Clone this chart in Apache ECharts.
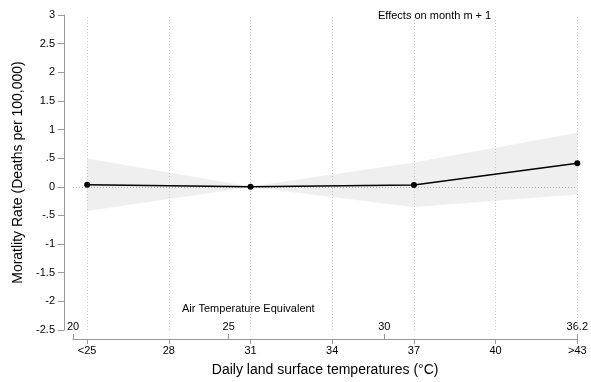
<!DOCTYPE html>
<html>
<head>
<meta charset="utf-8">
<script src="https://cdn.jsdelivr.net/npm/echarts@6/dist/echarts.min.js"></script>
<style>
  html, body { margin: 0; padding: 0; background: #fff; }
  #chart { width: 591px; height: 382px; }
</style>
</head>
<body>
<div id="chart"></div>
<script>
// Land surface temperature bins (°C) and their tick labels
const lstBins = [25, 31, 37, 43];
const lstTicks = [25, 28, 31, 34, 37, 40, 43];
const lstTickLabels = ['<25', '28', '31', '34', '37', '40', '>43'];

// Matching air temperature scale
const airTicks = [20, 25, 30, 36.2];

// Estimated effect on mortality and its 95% confidence band
const effect = [0.035, 0.0, 0.03, 0.41];
const ciLower = [-0.42, 0.0, -0.35, -0.13];
const ciUpper = [0.49, 0.0, 0.42, 0.94];

const FONT = 'Liberation Sans, Arial, Helvetica, sans-serif';
const AXIS_GRAY = '#9a9a9a';
const GRID_GRAY = '#c8c8c8';

// Stata-style numbers: ".5" instead of "0.5"
function stataNum(v) {
  if (v === 0) return '0';
  return String(v).replace(/^0\./, '.').replace(/^-0\./, '-.');
}

const chart = echarts.init(document.getElementById('chart'), null, { renderer: 'canvas' });

const pairs = (ys) => lstBins.map((x, i) => [x, ys[i]]);
const bandData = lstBins.map((x, i) => [x, ciLower[i], ciUpper[i]]);

// Confidence band: one filled quadrilateral between each pair of neighbouring bins
function renderBand(params, api) {
  const i = params.dataIndexInside;
  if (i >= params.dataInsideLength - 1) return null;
  const x0 = api.value(0, i), lo0 = api.value(1, i), hi0 = api.value(2, i);
  const x1 = api.value(0, i + 1), lo1 = api.value(1, i + 1), hi1 = api.value(2, i + 1);
  const pts = [
    api.coord([x0, hi0]),
    api.coord([x1, hi1]),
    api.coord([x1, lo1]),
    api.coord([x0, lo0])
  ];
  return {
    type: 'polygon',
    shape: { points: pts },
    style: { fill: '#efefef', stroke: '#efefef', lineWidth: 0.5 }
  };
}

chart.setOption({
  animation: false,
  backgroundColor: '#fff',
  textStyle: { fontFamily: FONT, color: '#000' },
  title: [
    {
      text: 'Effects on month m + 1',
      left: 378, top: 10, padding: 0,
      textStyle: { fontFamily: FONT, fontSize: 11, fontWeight: 'normal', color: '#000' }
    },
    {
      text: 'Air Temperature Equivalent',
      left: 182, top: 303, padding: 0,
      textStyle: { fontFamily: FONT, fontSize: 11, fontWeight: 'normal', color: '#000' }
    }
  ],
  grid: { left: 73, right: 10, top: 15, bottom: 52, containLabel: false },
  xAxis: [
    {
      type: 'value',
      min: 24.48,
      max: 43,
      offset: 9,
      position: 'bottom',
      name: 'Daily land surface temperatures (°C)',
      nameLocation: 'middle',
      nameGap: 24,
      nameTextStyle: { fontFamily: FONT, fontSize: 14, color: '#000' },
      axisLine: { show: true, onZero: false, lineStyle: { color: AXIS_GRAY, width: 1 } },
      axisTick: { show: true, length: 5, customValues: lstTicks, lineStyle: { color: AXIS_GRAY } },
      axisLabel: {
        customValues: lstTicks,
        fontFamily: FONT, fontSize: 11, color: '#000', margin: 6,
        formatter: (v) => lstTickLabels[lstTicks.indexOf(v)] ?? ''
      },
      splitLine: { show: false }
    },
    {
      type: 'value',
      min: airTicks[0],
      max: airTicks[airTicks.length - 1],
      offset: 9,
      position: 'bottom',
      axisLine: { show: false, onZero: false },
      axisTick: { show: true, inside: true, length: 5, customValues: airTicks, lineStyle: { color: AXIS_GRAY } },
      axisLabel: {
        inside: true, customValues: airTicks,
        fontFamily: FONT, fontSize: 11, color: '#000', margin: 7,
        formatter: (v) => String(v)
      },
      splitLine: { show: false }
    }
  ],
  yAxis: {
    type: 'value',
    min: -2.5,
    max: 3,
    interval: 0.5,
    offset: 9,
    name: 'Moratlity Rate (Deaths per 100,000)',
    nameLocation: 'middle',
    nameGap: 38,
    nameTextStyle: { fontFamily: FONT, fontSize: 14, color: '#000' },
    axisLine: { show: true, onZero: false, lineStyle: { color: AXIS_GRAY, width: 1 } },
    axisTick: { show: true, length: 6, lineStyle: { color: AXIS_GRAY } },
    axisLabel: { fontFamily: FONT, fontSize: 11, color: '#000', margin: 9, formatter: stataNum },
    splitLine: { show: false }
  },
  series: [
    {
      name: 'band',
      type: 'custom',
      xAxisIndex: 0,
      renderItem: renderBand,
      data: bandData,
      encode: { x: 0, y: [1, 2] },
      silent: true,
      z: 1,
      markLine: {
        silent: true,
        symbol: 'none',
        label: { show: false },
        lineStyle: { type: [1, 2], color: GRID_GRAY, width: 1 },
        data: lstTicks.map((v) => ({ xAxis: v }))
      }
    },
    {
      name: 'effect',
      type: 'line',
      xAxisIndex: 0,
      data: pairs(effect),
      symbol: 'circle',
      symbolSize: 6,
      itemStyle: { color: '#000' },
      lineStyle: { color: '#000', width: 1.5 },
      z: 5,
      markLine: {
        silent: true,
        symbol: 'none',
        label: { show: false },
        lineStyle: { type: [1, 2], color: '#aaaaaa', width: 1 },
        data: [{ yAxis: 0 }]
      }
    }
  ]
});
</script>
</body>
</html>
